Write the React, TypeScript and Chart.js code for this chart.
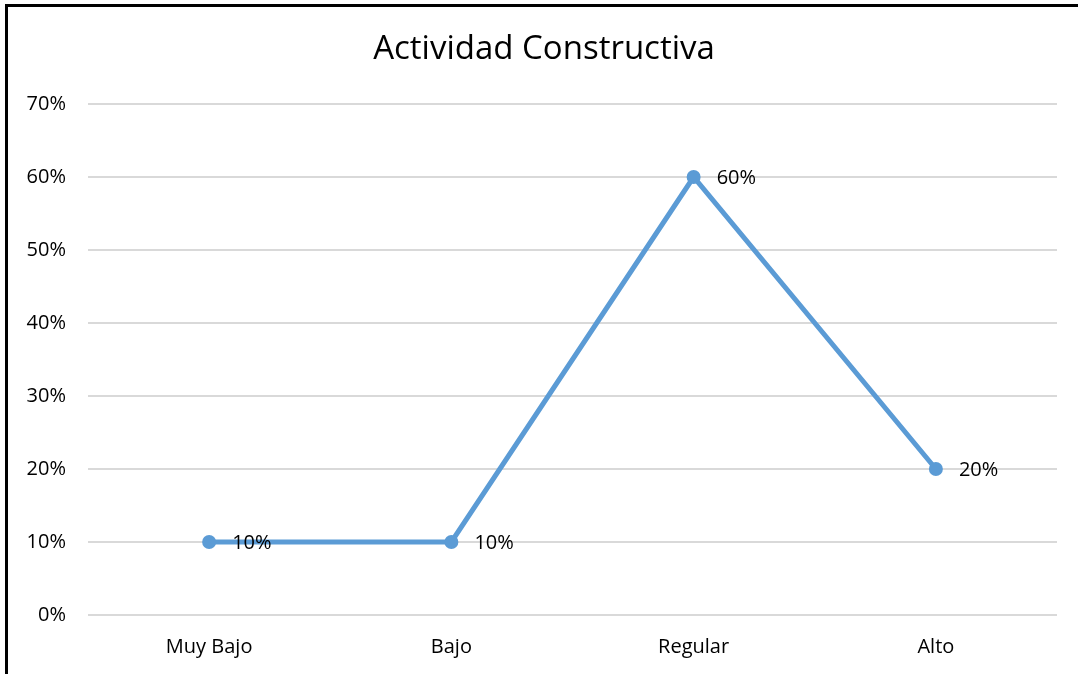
import React, { useEffect, useRef } from "react";
import { Chart, registerables } from "chart.js";

Chart.register(...registerables);

const categories = ["Muy Bajo", "Bajo", "Regular", "Alto"];
const values = [10, 10, 60, 20];
const dataLabels = ["10%", "10%", "60%", "20%"];
const chartTitle = "Actividad Constructiva";
const yMax = 70;
const yStep = 10;

const FONT = "'Open Sans', 'Noto Sans', sans-serif";

const pointLabelPlugin = {
  id: "pointLabels",
  afterDatasetsDraw(chart: any) {
    const ctx = chart.ctx;
    const meta = chart.getDatasetMeta(0);
    ctx.save();
    ctx.font = `20px ${FONT}`;
    ctx.fillStyle = "#000000";
    ctx.textAlign = "left";
    ctx.textBaseline = "middle";
    meta.data.forEach((pt: any, i: number) => {
      ctx.fillText(dataLabels[i], pt.x + 23, pt.y + 1);
    });
    ctx.restore();
  },
};

const titlePlugin = {
  id: "customTitle",
  afterDraw(chart: any) {
    const ctx = chart.ctx;
    ctx.save();
    ctx.font = `33px ${FONT}`;
    ctx.fillStyle = "#000000";
    ctx.textAlign = "center";
    ctx.textBaseline = "middle";
    ctx.fillText(chartTitle, 544, 50);
    ctx.restore();
  },
};

export default function App() {
  const canvasRef = useRef<HTMLCanvasElement | null>(null);

  useEffect(() => {
    document.body.style.margin = "0";
    const canvas = canvasRef.current;
    if (!canvas) return;
    const chart = new Chart(canvas, {
      type: "line",
      data: {
        labels: categories,
        datasets: [
          {
            data: values,
            borderColor: "#5B9BD5",
            backgroundColor: "#5B9BD5",
            borderWidth: 5,
            pointRadius: 7,
            pointBackgroundColor: "#5B9BD5",
            pointBorderColor: "#5B9BD5",
            pointBorderWidth: 0,
            tension: 0,
          },
        ],
      },
      options: {
        animation: false,
        responsive: false,
        maintainAspectRatio: false,
        layout: { padding: { left: 0, right: 21, top: 104, bottom: 0 } },
        plugins: {
          legend: { display: false },
          tooltip: { enabled: false },
          title: { display: false },
        },
        scales: {
          x: {
            offset: true,
            grid: { display: false, drawTicks: false },
            border: { display: false },
            ticks: {
              color: "#000000",
              font: { family: FONT, size: 20 },
              padding: 20,
            },
            afterFit(scale: any) {
              scale.height = 59;
            },
          },
          y: {
            min: 0,
            max: yMax,
            grid: { color: "#D9D9D9", lineWidth: 2, drawTicks: false },
            border: { display: false },
            ticks: {
              stepSize: yStep,
              color: "#000000",
              font: { family: FONT, size: 20 },
              padding: 22,
              callback: (v: any) => `${v}%`,
            },
            afterFit(scale: any) {
              scale.width = 88;
            },
          },
        },
      },
      plugins: [pointLabelPlugin, titlePlugin],
    });
    return () => chart.destroy();
  }, []);

  return (
    <div style={{ position: "relative", width: 1078, height: 674, overflow: "hidden", background: "#fff" }}>
      <div
        style={{
          position: "absolute",
          left: 5,
          top: 4,
          width: 1200,
          height: 800,
          borderLeft: "3px solid #000",
          borderTop: "3px solid #000",
        }}
      />
      <canvas ref={canvasRef} width={1078} height={674} style={{ position: "absolute", left: 0, top: 0 }} />
    </div>
  );
}
